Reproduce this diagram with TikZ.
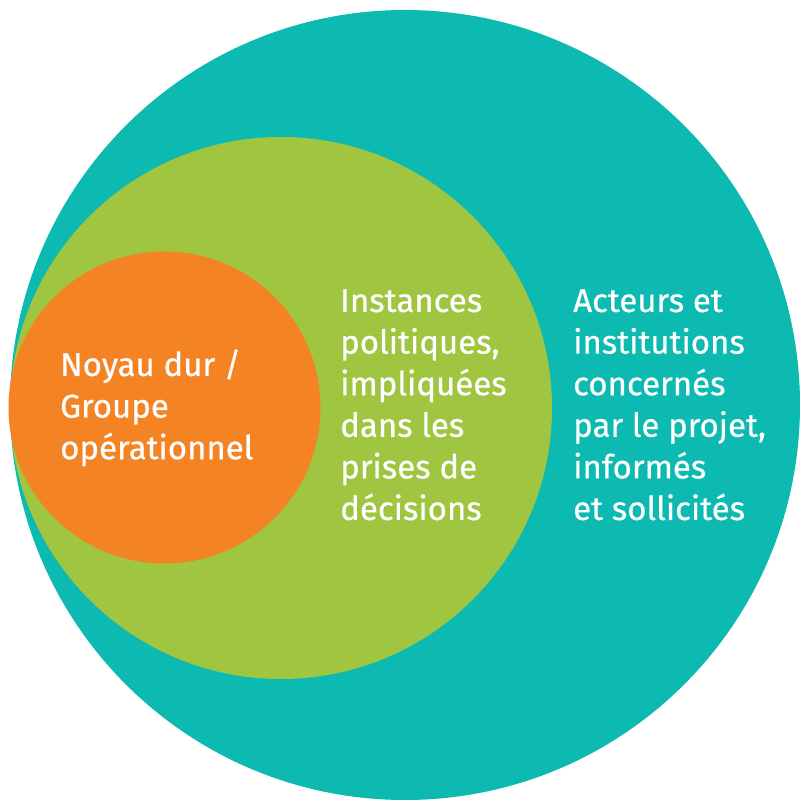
\documentclass[tikz,border=0pt]{standalone}
\usepackage{fontspec}
\setmainfont{Fira Sans}
\newfontfamily\lblfont{Fira Sans}[FakeBold=0.5]
\definecolor{teal1}{RGB}{13,186,177}
\definecolor{green1}{RGB}{160,198,65}
\definecolor{orange1}{RGB}{244,131,36}
\begin{document}
\begin{tikzpicture}[x=1pt,y=1pt,
  lbl/.style={anchor=base west,inner sep=0pt,align=left,text=white,
    font=\lblfont\fontsize{33}{41.6}\selectfont}]
\useasboundingbox (0,0) rectangle (800,801);
\fill[teal1] (405,396) circle (395);
\fill[green1] (281,393) circle (271);
\fill[orange1] (164.5,393.5) circle (156);
\node[lbl] (core) at (60,341.8) {Noyau dur /\\Groupe\\opérationnel};
\node[lbl] (pol) at (340,281) {Instances\\politiques,\\impliquées\\dans les\\prises de\\décisions};
\node[lbl] (act) at (573,281) {Acteurs et\\institutions\\concernés\\par le projet,\\informés\\et sollicités};
\end{tikzpicture}
\end{document}
